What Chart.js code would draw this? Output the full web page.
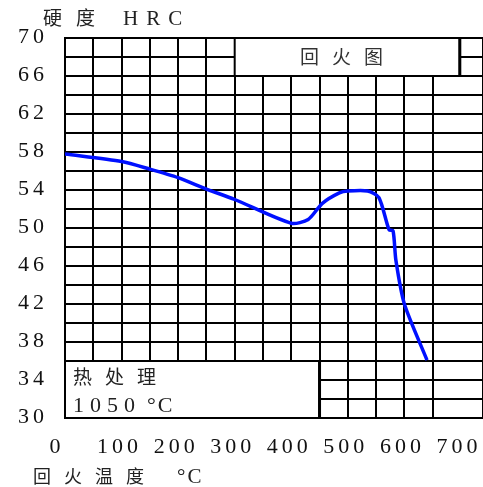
<!DOCTYPE html>
<html>
<head>
<meta charset="utf-8">
<script src="https://cdn.jsdelivr.net/npm/chart.js@4"></script>
<style>
  html, body { margin: 0; padding: 0; background: #fff; }
  canvas { display: block; }
</style>
</head>
<body>
<canvas id="temperChart" width="483" height="487"></canvas>
<script>
// Tempering curve data (temperature °C -> hardness HRC)
const temps = [0, 100, 150, 200, 250, 300, 400, 430, 455, 485, 500, 535, 555, 573, 580, 585, 600, 640];
const hardness = [57.8, 57.0, 56.2, 55.3, 54.1, 53.0, 50.5, 50.9, 52.6, 53.7, 53.9, 53.9, 53.2, 49.8, 49.7, 46.6, 42.0, 36.1];

const xTickLabels = [0, 100, 200, 300, 400, 500, 600, 700];
const yTickLabels = [70, 66, 62, 58, 54, 50, 46, 42, 38, 34, 30];

const yTitle = ['硬度', 'HRC'];
const xTitle = ['回火温度', '°C'];
const chartTitle = '回火图';
const noteLines = ['热处理', '1050', '°C'];

const serif = '"Liberation Serif", "DejaVu Serif", serif';
const cjk = '"Noto Sans CJK SC", "Liberation Serif", serif';

// width of text drawn with extra gap between chars
function trackedWidth(ctx, str, gap) {
    let w = 0;
    for (const ch of str) w += ctx.measureText(ch).width + gap;
    return w - gap;
}

// draw text one char at a time with extra gap, returns end x
function tracked(ctx, str, x, y, gap) {
    for (const ch of str) {
        ctx.fillText(ch, x, y);
        x += ctx.measureText(ch).width + gap;
    }
    return x;
}

// Boxes drawn over the grid, below the curve
const boxPlugin = {
    id: 'boxes',
    beforeDatasetsDraw(chart) {
        const ctx = chart.ctx;
        const x = chart.scales.x, y = chart.scales.y;
        ctx.save();
        ctx.fillStyle = '#fff';
        ctx.strokeStyle = '#000';
        ctx.lineWidth = 2;

        // title box, top right
        let l = x.getPixelForValue(300), r = x.getPixelForValue(698);
        let t = y.getPixelForValue(70), b = y.getPixelForValue(66);
        ctx.fillRect(l, t, r - l, b - t);
        ctx.strokeRect(l, t, r - l, b - t);
        ctx.lineWidth = 3;
        ctx.beginPath();
        ctx.moveTo(r, t); ctx.lineTo(r, b);
        ctx.stroke();

        // heat treatment box, bottom left
        ctx.lineWidth = 2;
        l = x.getPixelForValue(0); r = x.getPixelForValue(450);
        t = y.getPixelForValue(36); b = y.getPixelForValue(30);
        ctx.fillRect(l, t, r - l, b - t);
        ctx.strokeRect(l, t, r - l, b - t);
        ctx.lineWidth = 3;
        ctx.beginPath();
        ctx.moveTo(r, t); ctx.lineTo(r, b);
        ctx.stroke();
        ctx.restore();
    },
    afterDraw(chart) {
        const ctx = chart.ctx;
        const x = chart.scales.x, y = chart.scales.y;
        ctx.save();
        ctx.fillStyle = '#111';
        ctx.textBaseline = 'middle';
        ctx.textAlign = 'left';

        // y tick labels, right edge at x=44
        ctx.font = '22px ' + serif;
        yTickLabels.forEach(v => {
            const s = String(v);
            tracked(ctx, s, 44 - trackedWidth(ctx, s, 4), y.getPixelForValue(v) - 1, 4);
        });

        // x tick labels, centred a little left of the grid line
        xTickLabels.forEach(v => {
            const s = String(v);
            const off = v === 0 ? -10 : -4;
            const cx = x.getPixelForValue(v) + off;
            tracked(ctx, s, cx - trackedWidth(ctx, s, 4) / 2, 447, 4);
        });

        // axis titles
        ctx.fillStyle = '#222';
        ctx.font = '19px ' + cjk;
        tracked(ctx, yTitle[0], 43, 18, 14);
        ctx.font = '21px ' + serif;
        tracked(ctx, yTitle[1], 123, 19, 8);

        ctx.font = '18px ' + cjk;
        tracked(ctx, xTitle[0], 33, 476, 13);
        ctx.font = '21px ' + serif;
        tracked(ctx, xTitle[1], 177, 477, 2);

        // box texts
        ctx.fillStyle = '#333';
        ctx.font = '19px ' + cjk;
        tracked(ctx, chartTitle, 300, y.getPixelForValue(68), 13);

        ctx.fillStyle = '#222';
        tracked(ctx, noteLines[0], 73, 377, 13);
        ctx.font = '22px ' + serif;
        tracked(ctx, noteLines[1], 73, 406, 6);
        tracked(ctx, noteLines[2], 147, 406, 2);
        ctx.restore();
    }
};

new Chart(document.getElementById('temperChart'), {
    type: 'line',
    data: {
        datasets: [{
            data: temps.map((t, i) => ({ x: t, y: hardness[i] })),
            borderColor: '#0010ff',
            borderWidth: 3.5,
            pointRadius: 0,
            tension: 0.25,
            fill: false
        }]
    },
    options: {
        responsive: false,
        animation: false,
        devicePixelRatio: 1,
        layout: {
            padding: { left: 65, top: 38, right: 0, bottom: 69 }
        },
        plugins: {
            legend: { display: false },
            tooltip: { enabled: false }
        },
        scales: {
            x: {
                type: 'linear',
                min: 0,
                max: 739,
                ticks: { display: false, stepSize: 50 },
                grid: { color: '#000', lineWidth: 2, drawTicks: false, tickLength: 0 },
                border: { display: true, color: '#000', width: 2 }
            },
            y: {
                min: 30,
                max: 70,
                ticks: { display: false, stepSize: 2 },
                grid: { color: '#000', lineWidth: 2, drawTicks: false, tickLength: 0 },
                border: { display: true, color: '#000', width: 2 }
            }
        }
    },
    plugins: [boxPlugin]
});
</script>
</body>
</html>
